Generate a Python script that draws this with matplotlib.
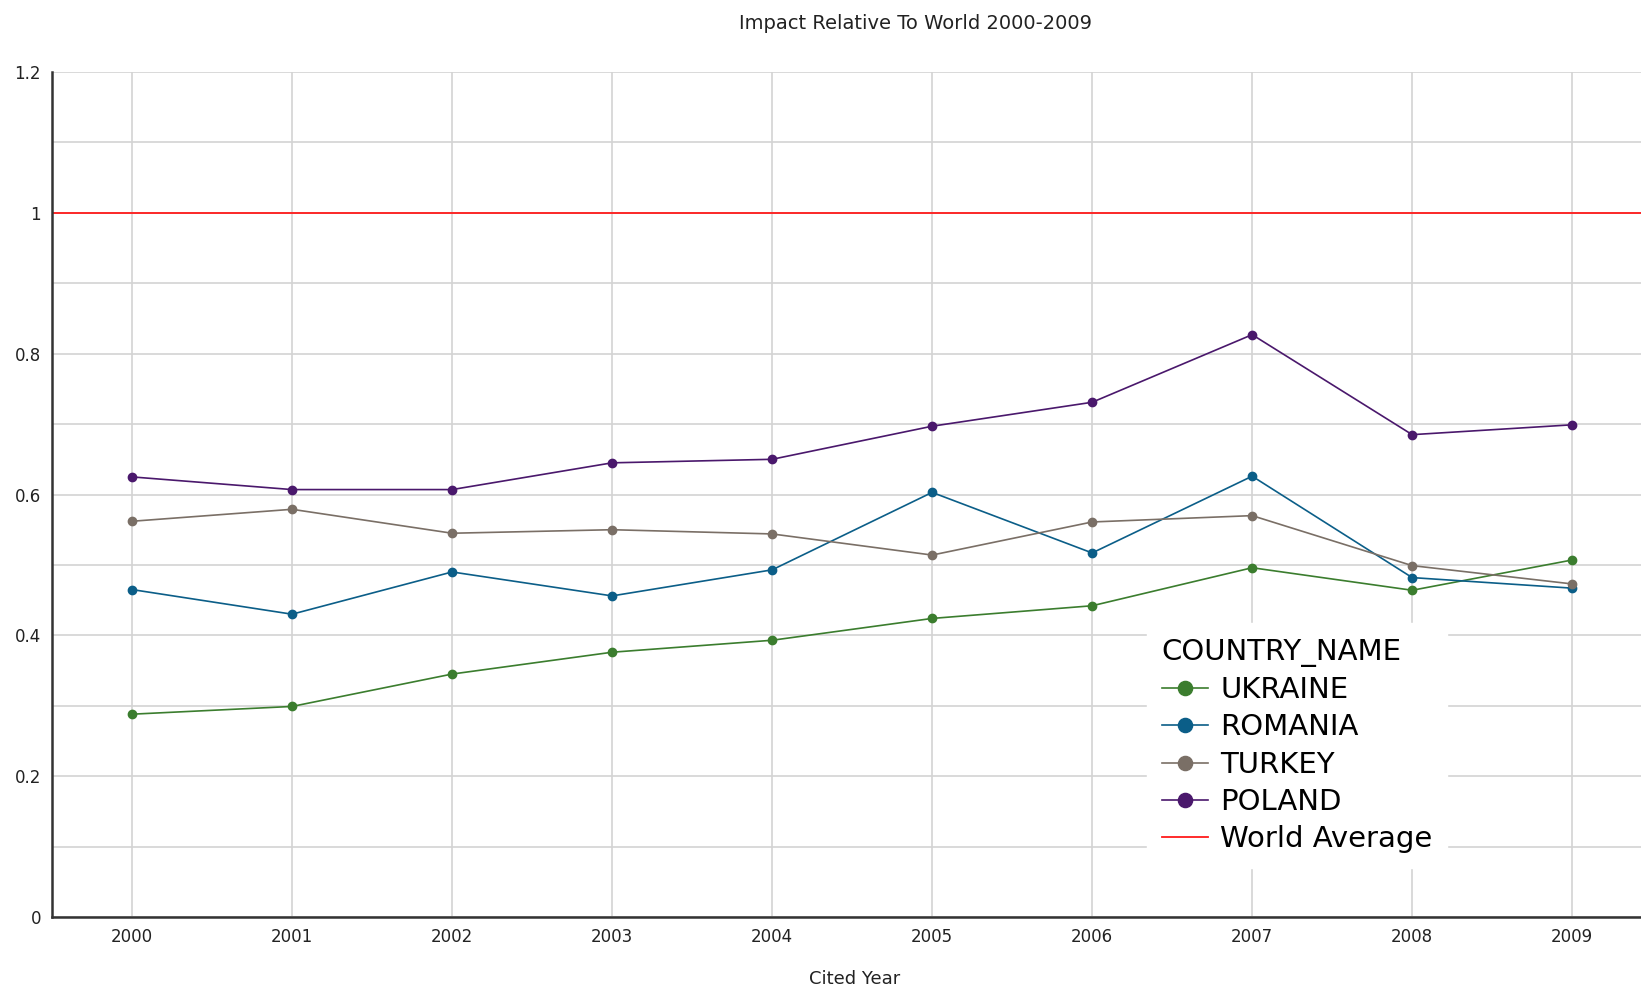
import numpy as np
import matplotlib
matplotlib.use("Agg")
import matplotlib.pyplot as plt
from matplotlib.ticker import MultipleLocator, FuncFormatter

years = [2000, 2001, 2002, 2003, 2004, 2005, 2006, 2007, 2008, 2009]
ukraine = [0.288, 0.299, 0.345, 0.376, 0.393, 0.424, 0.442, 0.496, 0.464, 0.507]
romania = [0.465, 0.430, 0.490, 0.456, 0.493, 0.603, 0.517, 0.626, 0.482, 0.467]
turkey = [0.562, 0.579, 0.545, 0.550, 0.544, 0.514, 0.561, 0.570, 0.499, 0.473]
poland = [0.625, 0.607, 0.607, 0.645, 0.650, 0.697, 0.731, 0.827, 0.685, 0.699]
world_avg = 1.0

fig = plt.figure(figsize=(16.41, 9.91), dpi=100)
ax = fig.add_axes([0.0317, 0.0747, 0.9683, 0.8526])

ax.plot(years, ukraine, color='#3b7d2e', marker='o', ms=6, lw=1.2, label='UKRAINE')
ax.plot(years, romania, color='#0b5e88', marker='o', ms=6, lw=1.2, label='ROMANIA')
ax.plot(years, turkey, color='#7a6f66', marker='o', ms=6, lw=1.2, label='TURKEY')
ax.plot(years, poland, color='#4a186c', marker='o', ms=6, lw=1.2, label='POLAND')
ax.axhline(world_avg, color='#ff1a1a', lw=1.3, label='World Average')

ax.set_xlim(1999.5, 2009.43)
ax.set_ylim(0, 1.2)
ax.set_xticks(years)
ax.yaxis.set_major_locator(MultipleLocator(0.2))
ax.yaxis.set_minor_locator(MultipleLocator(0.1))
ax.yaxis.set_major_formatter(FuncFormatter(lambda v, p: '%g' % round(v, 1)))
ax.grid(True, which='both', color='#d3d3d3', lw=1.2)
ax.set_axisbelow(True)
ax.tick_params(which='both', length=0, labelsize=12, colors='#222222', pad=8)

for s in ['top', 'right']:
    ax.spines[s].set_visible(False)
for s in ['left', 'bottom']:
    ax.spines[s].set_color('#333333')
    ax.spines[s].set_linewidth(1.8)

fig.text(0.558, 0.976, 'Impact Relative To World 2000-2009', ha='center', va='center', fontsize=14, color='#222222')
fig.text(0.521, 0.012, 'Cited Year', ha='center', va='center', fontsize=13, color='#222222')

leg = ax.legend(title='COUNTRY_NAME', loc='upper left', bbox_to_anchor=(0.68, 0.365),
                frameon=True, fancybox=False, edgecolor='white', framealpha=1,
                fontsize=21, title_fontsize=21, markerscale=1.7, handlelength=1.6,
                handletextpad=0.4, labelspacing=0.32, borderpad=0.5)
leg._legend_box.align = 'left'

plt.savefig('out.png', dpi=100)
